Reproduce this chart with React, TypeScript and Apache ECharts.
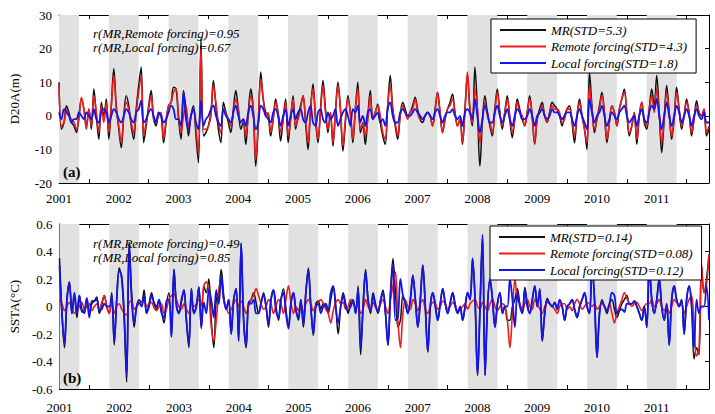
import React, { useEffect, useRef } from 'react';
import * as echarts from 'echarts';

const START_YEAR = 2001;
const STEPS_PER_YEAR = 24;
const X_MIN = 2001;
const X_MAX = 2011.875;

// Nov–Apr shaded seasons (decimal years)
const bandStart = [2001.0, 2001.833, 2002.833, 2003.833, 2004.833, 2005.833, 2006.833, 2007.833, 2008.833, 2009.833, 2010.833];
const bandEnd = [2001.333, 2002.333, 2003.333, 2004.333, 2005.333, 2006.333, 2007.333, 2008.333, 2009.333, 2010.333, 2011.333];

const d20Names = ['MR(STD=5.3)', 'Remote forcing(STD=4.3)', 'Local forcing(STD=1.8)'];
const sstNames = ['MR(STD=0.14)', 'Remote forcing(STD=0.08)', 'Local forcing(STD=0.12)'];
const d20Notes = ['r(MR,Remote forcing)=0.95', 'r(MR,Local forcing)=0.67'];
const sstNotes = ['r(MR,Remote forcing)=0.49', 'r(MR,Local forcing)=0.85'];

const d20Ticks = [-20, -10, 0, 10, 20, 30];
const sstTicks = [-0.6, -0.4, -0.2, 0, 0.2, 0.4, 0.6];

// D20A (m), semi-monthly from 2001.0
const d20Mr = [
  10, -4, -2, 3, 1, -2, -3, -5, 0, 5, 2, -3, 2, -4, 8, 0, -7, 4, 0, 5, -7, 3, 14, 3,
  -4, -9.5, 0, 6, 3, -3, -7, 2, 9, 14.5, -8, -3, 3, 7.5, -1, -3, 1, 0, -8, -2, 3, 4, 8.5, 8,
  -1, -7, 7.5, 2, -6, 0, 3, -6, -14, 23, -6, -5, -3, 1, 10.5, 3, -4, -8, 4, 1, -2, -5, 2, 7.5,
  2, -4, -2, -8.5, 1, 8, 2, -15, -3, 13, 5, 1, 0, -6, -1, 5, 0, -7.5, -1, 5, -8, -1, 6, -4,
  0, 3, 6, -2, -10, 2, 9.5, -1, -8, 2, 10.5, 2, -5, 1, -9, 1, 10, 2, -10.5, -2, 6, 1, -8, 2,
  10, -5, -3, -8.5, 0, 7.5, -1, 1, 3.5, -2, -6, -8.5, 3, 12, 2, -3, -7, 0, 4, 2, 0, 1, 3, 5.5,
  2, -1, -2, 0, 1, 0, -3, 2, 7, 1, -5, -1, 2, 4, 6.5, 1, -3, -1, -8.5, 2, 12, 2, -3, 14.5,
  2, -15, -2, 6, 1, -3, -6, 2, 8, 1, -4, 1, 6, -1, -6.5, -1, 5, 2, -1, -3, 1, 6, 0, -8.5,
  -1, 2, 4, 0, -2, 1, 4, 3, 2, 0, -3, 0, 2, 3, -2, -8, 0, 5, 0, -4, -10, 13, 3, -5,
  -1, 3, 7, 1, -8, -2, 3, 1, -3, 2, 5, 8, 1, -6, -3, 1, -8.5, 0, 4, -2, -4, 2, 8, 3,
  12, 1, -11, -1, 9, 1, -7, -1, 8.5, 2, -4, 0, 5, 1, -6, -1, 4.5, 1, 0, 2, -6, -4,
];
const d20Remote = [
  9, -3, -2, 2, 0, -1, -2, -4, -1, 5.5, 2, -4, 2, -3, 6, 1, -5, 3, -2, 4, -5, 3, 12, 2,
  -3, -8, 0, 4, 2, -2, -5, 1, 7, 12, -6, -2, 2, 6, -1, -2, 0, 1, -7, -1, 3, 4, 7, 8,
  0, -5, 0, 3, -3, 0, 2, -4, -11, 20, -4, -4, -3, 0, 9, 4, -2, -5, 2, 1, -1, -3, 1, 5,
  2, -2, -1, -6, 0, 6, 2, -13, -2, 11, 5, 0, 1, -5, -1, 4, 1, -5, -1, 4, -6, -1, 5, -3,
  -1, 2, 6, -1, -8, 2, 8, 0, -7, 1, 9, 1, -4, 1, -8, 1, 9, 2, -9, -1, 5, 1, -7, 2,
  8, -4, -2, -6, -1, 6, -1, 1, 3, 0, -5, -7, 3, 9, 2, -2, -6, 0, 3, 1, -1, 1, 2, 5,
  1, -1, -1, 0, 1, 0, -3, 1, 7, 1, -5, -1, 2, 3, 5, 1, -3, -1, -8, 1, 13, 2, -2, 8,
  2, -8, -1, 4, 0, -2, -5, 1, 7, 1, -3, 1, 5, 0, -5, -1, 4, 1, 0, -3, 1, 5, 0, -8,
  -1, 1, 3, 0, -2, 1, 3, 2, 2, 1, -2, -1, 2, 2, -1, -6, 0, 4, 0, -4, -8, 9, 2, -4,
  -1, 2, 6, 1, -7, -2, 3, 1, -3, 2, 5, 7, 1, -5, -3, 1, -7, 0, 4, -1, -3, 2, 6, 1,
  8, 1, -8, -1, 7, 1, -6, -1, 7, 2, -3, 0, 4, 1, -5, -1, 3, 1, 0, 2, -5, -3,
];
const d20Local = [
  1, -1, 2, 1, 0, -2, -1, -1, 1, 0, -1, 1, 0, -1, 2, -1, -2, 1, 2, 1, -2, 0, 2, 1,
  -1, -2, 0, 2, 1, -1, -2, 1, 2, 4.5, -2, -1, 1, 2, 0, -2, 1, 0, -2, -1, 1, 3, 2, -1,
  -1, -3, 7, -1, -4, 0, 2, -2, -4, 4.5, -3, -1, 0, 2, 3, 0, -2, -3, 2, 0, -1, -2, 1, 3,
  0, -2, -1, -3, 1, 3, 0, -4, -2, 3, 2, 0, -1, -2, 1, 2, 0, -3, 0, 2, -3, 0, 2, -1,
  1, 2, -1, -2, 1, 3, -2, -3, 1, 2, -1, -2, 1, -1, 0, 2, -3, -1, 1, 2, 0, -3, 2, 1,
  3, -2, 0, -3, 1, 2, -1, 0, 1, -2, -1, -3, 2, 4, 0, -2, -2, 1, 2, 1, 0, 0, 1, 2,
  1, 0, -1, 0, 1, 0, -1, 1, 2, 0, -2, 0, 1, 1, 2, 0, -1, 0, -3, 1, 2, 1, -1, 5,
  0, -5, -1, 3, 1, -2, -2, 1, 3, 0, -2, 0, 2, -1, -3, 0, 2, 1, -1, -1, 0, 2, 0, -3,
  0, 1, 2, 0, -1, 0, 2, 1, 1, 0, -1, 0, 1, 1, -1, -3, 0, 2, 0, -2, -4, 5, 1, -2,
  0, 1, 3, 0, -3, -1, 1, 0, -1, 1, 2, 3, 0, -2, -1, 0, -3, 0, 2, -1, -2, 1, 3, 2,
  5, 0, -4, 0, 4, 0, -3, 0, 3, 1, -2, 0, 2, 0, -3, 0, 2, 0, -1, 1, -2, -2,
];

// SSTA (°C), semi-monthly from 2001.0
const sstMr = [
  0.35, -0.05, -0.3, 0.05, 0.18, -0.05, 0.08, -0.08, 0.08, -0.02, -0.05, 0.06, -0.06, 0.02, 0.04, 0.07, -0.05, 0.01, 0.08, 0, -0.05, 0.1, -0.28, 0.05,
  0.28, 0.2, -0.1, -0.55, 0.47, 0.1, -0.15, 0, 0.05, 0.03, 0.12, -0.05, 0.02, 0.1, 0.02, -0.02, 0.05, -0.03, -0.12, 0.02, 0.1, -0.22, 0.27, 0.02,
  -0.05, 0.03, 0.12, -0.1, -0.3, 0.13, -0.05, 0, 0.14, -0.16, 0.15, 0.1, 0.2, -0.1, -0.3, 0.05, 0.1, 0.27, 0.08, -0.02, 0.05, -0.2, 0.05, 0.13,
  -0.25, 0.46, -0.1, -0.3, 0.03, 0.05, 0.1, 0.03, -0.05, 0.02, 0.1, 0, -0.15, 0.05, 0.12, 0, -0.1, 0.05, 0.13, -0.02, -0.15, 0.02, 0.1, -0.02,
  -0.1, 0.05, -0.15, 0.1, 0.28, 0, -0.21, 0.02, 0.04, -0.02, 0.02, 0, -0.05, 0.05, 0.14, 0, -0.2, 0, 0.1, 0.02, -0.05, 0.03, 0.05, -0.05,
  0.15, -0.35, 0, 0.27, 0.05, -0.05, 0.1, 0.02, -0.05, 0.05, 0.12, -0.05, -0.28, 0.1, 0.35, 0.1, -0.15, -0.1, 0.08, 0.02, -0.05, 0.05, 0.23, 0.05,
  -0.15, 0.05, 0.3, 0, -0.33, 0, 0.1, 0.02, -0.1, 0.02, 0.13, 0.03, -0.05, 0.02, 0.1, 0.02, -0.05, 0, -0.1, 0, 0.1, 0.05, 0.35, 0.05,
  -0.5, 0, 0.52, -0.5, 0, 0.2, 0.05, -0.15, 0.02, 0.1, -0.05, 0, -0.1, -0.1, 0, 0.05, 0.13, 0.02, -0.05, 0.14, 0.02, -0.05, 0.05, 0.15,
  0, 0.12, -0.25, -0.05, 0.06, 0.02, 0, 0.03, -0.02, 0.05, 0, -0.1, 0, 0.02, 0.05, -0.02, -0.08, 0, 0.05, 0.1, 0, -0.05, 0.3, 0.05,
  -0.37, -0.05, 0.05, 0, -0.05, 0.02, 0.05, -0.02, -0.08, -0.03, 0.02, 0.05, 0.08, 0.02, 0.02, 0.04, 0, -0.05, -0.1, 0, -0.15, 0.3, 0.05, -0.05,
  0.05, 0.2, 0, -0.1, 0.02, -0.28, 0.05, 0.15, 0.05, 0, 0.05, -0.2, 0.05, 0.15, 0.02, -0.38, -0.3, -0.35, 0.3, 0.1, 0.2, 0.38,
];
const sstRemote = [
  0.05, 0.02, -0.03, 0, 0.03, 0, -0.05, -0.03, 0, 0.03, -0.02, 0, 0.02, -0.03, 0, 0.02, -0.02, 0.03, 0.08, 0, -0.05, 0.02, -0.05, 0,
  0.02, -0.02, -0.05, -0.06, 0.03, 0.04, -0.02, 0, 0.02, 0.03, 0.05, 0, 0.02, 0.03, -0.01, -0.03, 0, 0.02, -0.05, -0.02, 0.05, 0.08, 0.09, 0.05,
  0, -0.02, 0.02, -0.02, -0.05, 0.03, 0, 0.02, 0.05, 0.01, 0.15, 0.18, 0.1, -0.15, -0.25, -0.1, 0.1, 0.21, 0.05, 0, -0.05, -0.02, 0.02, 0.05,
  0, 0.04, 0, -0.05, 0, 0.05, 0.08, 0.13, 0.08, 0.02, -0.02, 0, 0.05, 0.02, -0.05, 0, 0.05, 0.02, -0.05, 0.05, 0.15, 0.03, -0.05, 0,
  -0.03, 0.02, -0.05, 0.02, 0.05, 0.02, -0.03, 0, 0.03, 0.05, 0.02, -0.02, -0.05, -0.12, -0.03, 0.03, 0.05, 0.02, 0.03, -0.02, 0, 0.05, 0.03, -0.02,
  0.02, -0.05, -0.02, 0.05, 0, -0.03, 0.03, 0, -0.02, 0.02, 0.05, 0, -0.05, 0.05, 0.15, 0.25, -0.1, -0.3, -0.05, 0.05, 0, -0.02, 0.05, 0.02,
  -0.03, 0.02, 0.05, -0.02, -0.05, 0, 0.03, 0.02, -0.02, 0, 0.04, 0.02, -0.02, 0, 0.03, 0.01, -0.03, -0.02, 0, 0.02, -0.02, 0.02, 0.04, 0.05,
  0, -0.02, 0.03, 0, -0.03, 0.02, 0.05, 0, -0.03, 0, 0.02, 0, -0.1, -0.3, -0.05, 0.2, 0.05, 0.02, -0.03, 0.02, 0.05, 0, -0.02, 0.05,
  0.02, -0.02, -0.05, 0, 0.03, 0.02, 0, -0.02, -0.05, 0, 0.02, 0.02, -0.02, 0, -0.03, 0.02, 0.05, 0.02, -0.02, 0, 0.03, 0.02, 0, 0.02,
  -0.02, 0, 0.03, 0, -0.03, 0.02, -0.05, -0.12, -0.05, 0, 0.05, 0.1, 0.06, 0.02, 0, 0.02, 0.03, 0, -0.03, 0, 0.02, 0.02, 0.05, 0,
  0.02, 0.05, 0, -0.03, 0, -0.05, 0, 0.05, 0.03, 0, 0.02, -0.05, 0, 0.05, 0.08, -0.15, -0.36, -0.3, 0.3, 0.1, 0.16, 0.38,
];
const sstLocal = [
  0.3, -0.05, -0.27, 0.05, 0.17, -0.05, 0.1, -0.05, 0.08, -0.04, -0.03, 0.06, -0.08, 0.04, 0.04, 0.05, -0.03, -0.02, 0.02, 0, 0, 0.08, -0.25, 0.05,
  0.26, 0.22, -0.05, -0.5, 0.45, 0.05, -0.12, 0, 0.03, 0, 0.08, -0.05, 0, 0.08, 0.03, 0, 0.05, -0.05, -0.08, 0.04, 0.05, -0.22, 0.27, 0,
  -0.05, 0.05, 0.12, -0.1, -0.28, 0.13, -0.05, 0, 0.14, -0.15, 0.03, -0.05, 0.12, 0.05, -0.08, 0.12, 0.02, 0.22, 0.05, -0.02, 0.05, -0.2, 0.05, 0.13,
  -0.25, 0.46, -0.1, -0.28, 0.03, 0.02, 0.05, -0.05, -0.05, 0.03, 0.08, 0, -0.13, 0.05, 0.12, -0.03, -0.08, 0.05, 0.1, -0.05, -0.16, 0.02, 0.1, -0.03,
  -0.08, 0.05, -0.13, 0.1, 0.26, 0, -0.2, 0, 0.02, -0.05, 0, 0.02, -0.03, 0.1, 0.15, 0, -0.12, 0, 0.08, 0, -0.03, 0, 0.04, -0.05,
  0.13, -0.3, 0, 0.25, 0.05, -0.03, 0.08, 0, -0.04, 0.04, 0.1, -0.05, -0.28, 0.08, 0.3, -0.1, -0.08, 0.2, 0.08, 0.02, -0.05, 0.05, 0.22, 0.05,
  -0.15, 0.05, 0.3, 0, -0.33, 0, 0.1, 0, -0.1, 0.02, 0.13, 0.02, -0.05, 0.03, 0.1, 0, -0.05, 0, -0.1, 0, 0.1, 0.05, 0.35, 0.05,
  -0.5, 0, 0.52, -0.5, 0, 0.2, 0.05, -0.15, 0.02, 0.1, -0.05, 0, 0, 0.2, 0.05, -0.15, 0.1, 0, -0.05, 0.12, 0, -0.05, 0.05, 0.15,
  0, 0.13, -0.25, -0.05, 0.05, 0.02, 0, 0.03, -0.02, 0.05, 0, -0.1, 0, 0.02, 0.05, -0.02, -0.08, 0, 0.05, 0.1, 0, -0.05, 0.3, 0.05,
  -0.37, -0.05, 0.03, 0, -0.03, 0.02, 0.1, 0.08, -0.05, -0.03, -0.02, -0.04, 0.02, 0.02, 0.02, 0.04, 0, -0.05, -0.1, 0, -0.15, 0.3, 0.05, -0.05,
  0.05, 0.2, 0, -0.1, 0.02, -0.28, 0.05, 0.15, 0.05, 0, 0.05, -0.2, 0.05, 0.15, 0, -0.3, 0.05, -0.05, 0, 0, 0.15, -0.1,
];

const SERIF = '"Liberation Serif", "Times New Roman", serif';
const COLORS = ['#111111', '#ee1c1c', '#1515e6'];
const WIDTHS = [1.5, 1.6, 1.8];

const toPairs = (arr: number[]) => arr.map((v, i) => [START_YEAR + i / STEPS_PER_YEAR, v]);

function xAxesFor(gridIndex: number, margin: number) {
  const common = {
    type: 'value',
    gridIndex,
    min: X_MIN,
    max: X_MAX,
    interval: 0.5,
    axisLine: { show: true, onZero: false, lineStyle: { color: '#000', width: 1 } },
    axisTick: { show: true, inside: true, length: 4, lineStyle: { color: '#000', width: 1 } },
    splitLine: { show: false },
  };
  return [
    {
      ...common,
      position: 'bottom',
      axisLabel: {
        show: true,
        margin,
        color: '#000',
        fontFamily: SERIF,
        fontSize: 13,
        showMaxLabel: false,
        formatter: (v: number) => (Number.isInteger(v) ? String(v) : ''),
      },
    },
    { ...common, position: 'top', axisLabel: { show: false } },
  ];
}

function yAxesFor(gridIndex: number, ticks: number[], name: string, nameGap: number) {
  const step = ticks[1] - ticks[0];
  const common = {
    type: 'value',
    gridIndex,
    min: ticks[0],
    max: ticks[ticks.length - 1],
    interval: step,
    axisLine: { show: true, onZero: false, lineStyle: { color: '#000', width: 1 } },
    axisTick: { show: true, inside: true, length: 4, lineStyle: { color: '#000', width: 1 } },
    splitLine: { show: false },
  };
  return [
    {
      ...common,
      position: 'left',
      name,
      nameLocation: 'middle',
      nameGap,
      nameTextStyle: { fontFamily: SERIF, fontSize: 13, color: '#000' },
      axisLabel: {
        show: true,
        margin: 7,
        color: '#000',
        fontFamily: SERIF,
        fontSize: 13,
        formatter: (v: number) => {
          const r = Math.round(v * 10) / 10;
          return r === 0 ? '0' : String(r);
        },
      },
    },
    { ...common, position: 'right', axisLabel: { show: false } },
  ];
}

function bandArea() {
  return bandStart.map((s, i) => [{ xAxis: s }, { xAxis: bandEnd[i] }]);
}

function panelSeries(axisIdx: number, names: string[], arrays: number[][]) {
  const bands = {
    type: 'line',
    xAxisIndex: axisIdx,
    yAxisIndex: axisIdx,
    data: [[X_MIN, 0]],
    symbol: 'none',
    showSymbol: false,
    lineStyle: { opacity: 0 },
    silent: true,
    z: 1,
    markArea: { silent: true, itemStyle: { color: '#e1e1e1' }, data: bandArea() },
  };
  const lines = arrays.map((arr, k) => ({
    name: names[k],
    type: 'line',
    xAxisIndex: axisIdx,
    yAxisIndex: axisIdx,
    data: toPairs(arr),
    symbol: 'none',
    showSymbol: false,
    smooth: 0.35,
    lineStyle: { color: COLORS[k], width: WIDTHS[k] },
    itemStyle: { color: COLORS[k] },
    z: 2 + k,
  }));
  return [bands, ...lines];
}

function legendFor(names: string[], left: number, top: number) {
  return {
    data: names.map((n) => ({ name: n, icon: 'rect' })),
    orient: 'vertical',
    left,
    top,
    selectedMode: false,
    backgroundColor: '#ffffff',
    borderColor: '#000',
    borderWidth: 1,
    borderRadius: 0,
    padding: [4, 9, 3, 9],
    itemWidth: 46,
    itemHeight: 2,
    itemGap: 2.5,
    textStyle: { fontFamily: SERIF, fontStyle: 'italic', fontSize: 13, lineHeight: 14, color: '#000' },
    z: 10,
  };
}

function noteText(text: string, x: number, y: number, font: string) {
  return {
    type: 'text',
    x,
    y,
    z: 20,
    silent: true,
    style: { text, font, fill: '#000', verticalAlign: 'middle', align: 'left' },
  };
}

export default function App() {
  const ref = useRef<HTMLDivElement>(null);
  useEffect(() => {
    if (!ref.current) return;
    const chart = echarts.init(ref.current, undefined, { renderer: 'svg' });
    const italic = `italic 13px ${SERIF}`;
    const bold = `bold 15px ${SERIF}`;
    chart.setOption({
      animation: false,
      backgroundColor: '#ffffff',
      grid: [
        { left: 57, top: 15, width: 652, height: 168 },
        { left: 57, top: 224, width: 652, height: 168 },
      ],
      xAxis: [...xAxesFor(0, 9), ...xAxesFor(1, 12)],
      yAxis: [...yAxesFor(0, d20Ticks, 'D20A(m)', 38), ...yAxesFor(1, sstTicks, 'SSTA(°C)', 38)],
      legend: [legendFor(d20Names, 491, 19), legendFor(sstNames, 490, 226)],
      series: [
        ...panelSeries(0, d20Names, [d20Mr, d20Remote, d20Local]),
        ...panelSeries(2, sstNames, [sstMr, sstRemote, sstLocal]),
      ],
      graphic: [
        noteText(d20Notes[0], 93, 33, italic),
        noteText(d20Notes[1], 93, 47, italic),
        noteText(sstNotes[0], 93, 243, italic),
        noteText(sstNotes[1], 93, 257, italic),
        noteText('(a)', 63, 172, bold),
        noteText('(b)', 63, 378, bold),
      ],
    });
    return () => chart.dispose();
  }, []);
  return <div ref={ref} style={{ position: 'absolute', left: 0, top: 0, width: 715, height: 414 }} />;
}
